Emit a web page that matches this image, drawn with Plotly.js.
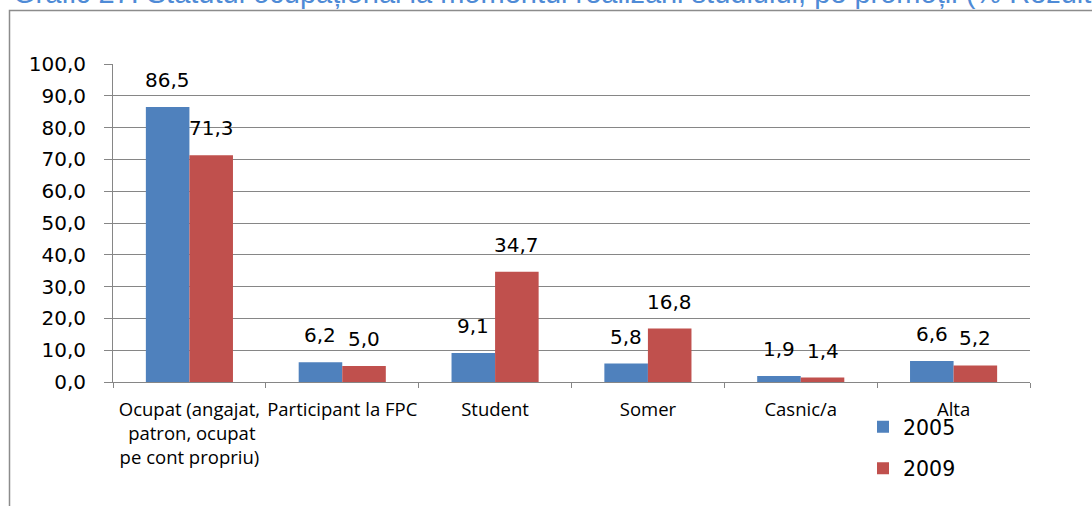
<!DOCTYPE html>
<html>
<head>
<meta charset="utf-8">
<script src="https://cdn.plot.ly/plotly-3.0.1.min.js"></script>
<style>
  html, body { margin: 0; padding: 0; background: #ffffff; }
  #chart { width: 1092px; height: 506px; }
</style>
</head>
<body>
<div id="chart"></div>
<script>
// ---- data ----
const categories = [
  "Ocupat (angajat,<br> patron, ocupat<br>pe cont propriu)",
  "Participant la FPC",
  "Student",
  "Somer",
  "Casnic/a",
  "Alta"
];
const seriesNames = ["2005", "2009"];
const values2005 = [86.5, 6.2, 9.1, 5.8, 1.9, 6.6];
const values2009 = [71.3, 5.0, 34.7, 16.8, 1.4, 5.2];
const yTickValues = [0, 10, 20, 30, 40, 50, 60, 70, 80, 90, 100];
const titleText = "Grafic 27: Statutul ocupațional la momentul realizării studiului, pe promoții (% Rezultate)";

// ---- style ----
const blue = "#4F81BD";
const red = "#C0504D";
const grey = "#868686";
const numFont = "DejaVu Sans";
const labelFont = "Open Sans";

function fmt(v) { return v.toFixed(1).replace(".", ","); }

const traces = [
  {
    type: "bar", name: seriesNames[0], x: categories, y: values2005,
    marker: { color: blue }, legendgroup: "a", hoverinfo: "skip"
  },
  {
    type: "bar", name: seriesNames[1], x: categories, y: values2009,
    marker: { color: red }, legendgroup: "b", hoverinfo: "skip"
  }
];

const annotations = [];
const seriesVals = [values2005, values2009];
const offsets = [-21.8, 21.8];
seriesVals.forEach((vals, si) => {
  vals.forEach((v, i) => {
    annotations.push({
      xref: "x", yref: "y", x: categories[i], y: v,
      xshift: offsets[si], yshift: 13,
      xanchor: "center", yanchor: "bottom",
      text: fmt(v), showarrow: false,
      font: { family: numFont, size: 20, color: "#000000" }
    });
  });
});

// title (partly above the page, as in the reference)
annotations.push({
  xref: "paper", yref: "paper",
  x: (11 - 113) / 917, y: 1 + (64 + 7.5) / 318,
  xanchor: "left", yanchor: "middle",
  text: titleText, showarrow: false,
  font: { family: "Liberation Sans", size: 29, color: "#4F8BD6" }
});

const layout = {
  width: 1092, height: 506,
  margin: { l: 113, r: 62, t: 64, b: 124 },
  paper_bgcolor: "#ffffff", plot_bgcolor: "#ffffff",
  separators: ",.",
  barmode: "group",
  bargap: 0.43, bargroupgap: 0,
  showlegend: true,
  legend: {
    x: (863 - 113) / 917, xanchor: "left",
    y: -0.1 + 7 / 318, yanchor: "top",
    font: { family: numFont, size: 20.5, color: "#000000" },
    tracegroupgap: 12,
    bgcolor: "rgba(0,0,0,0)"
  },
  xaxis: {
    type: "category",
    showgrid: false,
    showline: true, linecolor: grey, linewidth: 1,
    ticks: "outside", tickson: "boundaries", ticklen: 5, tickcolor: grey,
    tickangle: 0,
    tickfont: { family: labelFont, size: 18.5, color: "#000000" },
    ticklabelstandoff: 11,
    fixedrange: true
  },
  yaxis: {
    range: [0, 100],
    tickvals: yTickValues,
    tickformat: ".1f",
    showgrid: true, gridcolor: grey, gridwidth: 1,
    showline: true, linecolor: grey, linewidth: 1,
    ticks: "outside", ticklen: 8, tickcolor: grey,
    tickfont: { family: numFont, size: 20, color: "#000000" },
    ticklabelstandoff: 14,
    zeroline: false,
    fixedrange: true
  },
  shapes: [
    {
      type: "rect", xref: "paper", yref: "paper", layer: "below",
      x0: (9.5 - 113) / 917, x1: 1.2,
      y0: -0.5, y1: 1 + (64 - 10.5) / 318,
      line: { color: "#8C8C8C", width: 1.5 }, fillcolor: "rgba(0,0,0,0)"
    }
  ],
  annotations: annotations
};

Plotly.newPlot("chart", traces, layout, { displayModeBar: false, staticPlot: true });
</script>
</body>
</html>
